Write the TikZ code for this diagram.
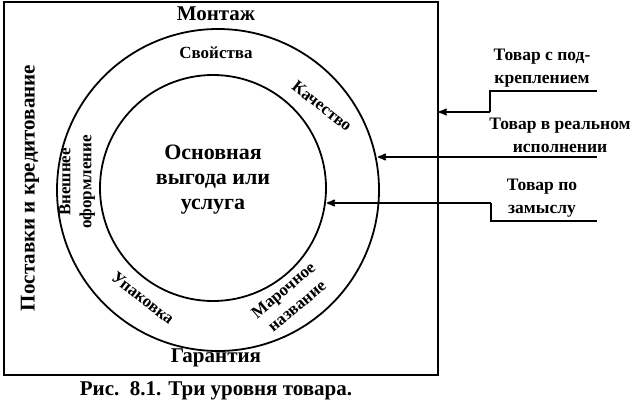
\documentclass[tikz,border=0pt]{standalone}
\usepackage{fontspec}
\setmainfont{Liberation Serif}
\usetikzlibrary{positioning, arrows}
\tikzset{lbl/.style={font=\bfseries\fontsize{17}{21}\selectfont, align=center, inner sep=1pt}}
\tikzset{big/.style={font=\bfseries\fontsize{21}{23}\selectfont, align=center, inner sep=1pt}}
\tikzset{side/.style={font=\bfseries\fontsize{17.5}{23}\selectfont, align=center, inner sep=1pt}}
\tikzset{arr/.style={draw, ->, line width=1.8pt, >=stealth'}}
\tikzset{rule/.style={draw, line width=1.8pt}}

\begin{document}
\begin{tikzpicture}[x=1pt, y=-1pt, line width=1.8pt]
				\useasboundingbox (0,0) rectangle (640,405);
				\node[draw, line width=1.8pt, minimum width=434pt, minimum height=373pt,
					inner sep=0pt, anchor=north west] (box) at (3,1) {};
				\draw (218,190) circle (161);
				\draw (213,188) circle (113);
				\coordinate (outer) at (378,157);
				\coordinate (inner) at (327,203);
				%
				\node[big] (mount) at (216,14) {Монтаж};
				\node[big] (warr) at (216,358) {Гарантия};
				\node[big, rotate=90] (supply) at (30,188) {Поставки и кредитование};
				\node[big, font=\bfseries\fontsize{22}{25}\selectfont] (core) at (213,180)
					{Основная\\выгода или\\услуга};
				\node[lbl] (props) at (216,53) {Свойства};
				\node[lbl, rotate=-38] (qual) at (322,106) {Качество};
				\node[lbl, rotate=90] (look) at (77,182)
					{Внешнее\\оформление};
				\node[lbl, rotate=-38] (pack) at (143,298) {Упаковка};
				\node[lbl, rotate=40] (brand) at (290,298)
					{Марочное\\название};
				\node[big] (cap) at (216,391)
					{Рис.\ \ 8.1. Три уровня товара.};
				%
				\node[side, anchor=south] (aug) at (542,89) {Товар с под-\\креплением};
				\node[side, anchor=south] (real) at (560,155) {Товар в реальном\\исполнении};
				\node[side, anchor=south] (idea) at (542,219) {Товар по\\замыслу};
				\coordinate (augR) at (597,91);
				\coordinate (augL) at (490,91);
				\coordinate (ideaR) at (597,221);
				\coordinate (ideaL) at (491,221);
				\draw[rule] (augR) -- (augL) -- ++(0,21) coordinate (augS);
				\draw[arr] (augS) -- (box.east |- augS);
				\draw[arr] (augR |- outer) coordinate (realR) -- (outer);
				\draw[rule] (ideaR) -- (ideaL) -- ++(0,-18) coordinate (ideaS);
				\draw[arr] (ideaS) -- (inner);
			\end{tikzpicture}
\end{document}
